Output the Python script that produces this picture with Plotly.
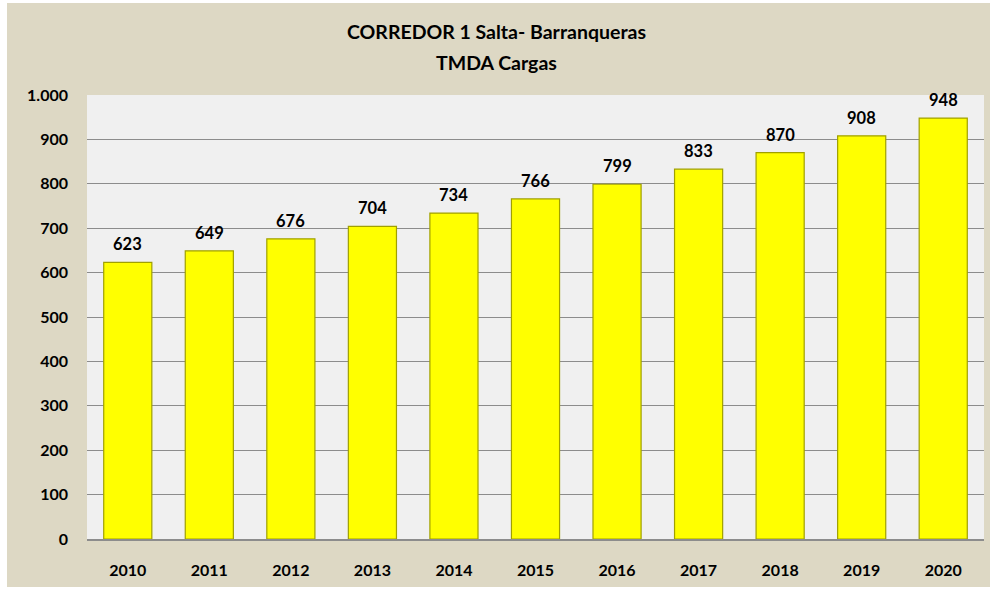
import plotly.graph_objects as go

years = [2010, 2011, 2012, 2013, 2014, 2015, 2016, 2017, 2018, 2019, 2020]
tmda = [623, 649, 676, 704, 734, 766, 799, 833, 870, 908, 948]
title_lines = ["CORREDOR 1 Salta- Barranqueras", "TMDA Cargas"]

FONT = "Lato"
fig = go.Figure()
fig.add_trace(go.Bar(
    x=years, y=tmda,
    marker=dict(color="#FFFF00", line=dict(color="#A0A000", width=1.2)),
    width=0.59,
    hoverinfo="x+y",
))
for yr, v in zip(years, tmda):
    fig.add_annotation(x=yr, y=v, text=f"<b>{v}</b>", showarrow=False,
                       yanchor="bottom", yshift=6,
                       font=dict(family=FONT, size=16.5, color="black"))

# titles
fig.add_annotation(xref="paper", yref="paper", x=0.456, y=1.144, text=f"<b>{title_lines[0]}</b>",
                   showarrow=False, xanchor="center", yanchor="middle",
                   font=dict(family=FONT, size=19.5, color="black"))
fig.add_annotation(xref="paper", yref="paper", x=0.456, y=1.074, text=f"<b>{title_lines[1]}</b>",
                   showarrow=False, xanchor="center", yanchor="middle",
                   font=dict(family=FONT, size=19.5, color="black"))

fig.update_layout(
    width=992, height=594,
    margin=dict(l=87, r=8, t=95, b=55, autoexpand=False),
    paper_bgcolor="white",
    plot_bgcolor="rgba(0,0,0,0)",
    separators=",.",
    showlegend=False,
    shapes=[
        dict(type="rect", xref="paper", yref="paper", x0=-0.0892, x1=1.0067, y0=-0.108, y1=1.207,
             fillcolor="#DDD8C4", line=dict(width=0), layer="below"),
        dict(type="rect", xref="paper", yref="paper", x0=0, x1=1, y0=0, y1=1,
             fillcolor="#F0F0F0", line=dict(width=0), layer="below"),
    ],
    xaxis=dict(
        range=[years[0] - 0.5, years[-1] + 0.5], tickvals=years, tickformat="d",
        automargin=False,
        showgrid=False, showline=True, linecolor="#8C8C8C", linewidth=1.5,
        zeroline=False,
        ticks="", tickfont=dict(family=FONT, size=16, color="black", weight="bold"),
        ticklabelstandoff=16,
    ),
    yaxis=dict(
        range=[0, 1000], dtick=100, tickformat=",d", automargin=False,
        showgrid=True, gridcolor="#8C8C8C", gridwidth=1.2,
        zeroline=False, showline=False,
        ticks="", tickfont=dict(family=FONT, size=16, color="black", weight="bold"),
        ticklabelstandoff=18,
    ),
)
fig.write_html("out.html", config={"displayModeBar": False},
               post_script="document.body.style.margin='0';")
